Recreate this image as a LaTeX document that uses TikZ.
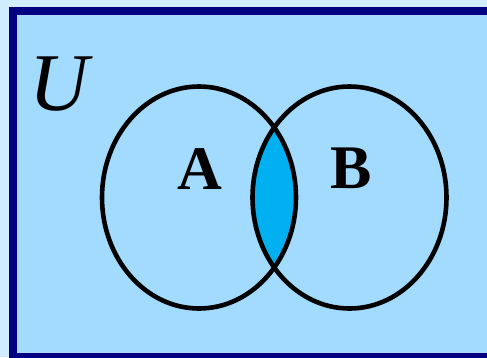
\documentclass[tikz,border=0pt]{standalone}
\usepackage{tikz}
\usepackage{fontspec}
\setmainfont{Liberation Serif}
\definecolor{paleblue}{RGB}{208,236,255}
\definecolor{setblue}{RGB}{163,219,255}
\definecolor{lensblue}{RGB}{0,176,240}
\definecolor{framenavy}{RGB}{0,0,128}

\begin{document}
\begin{tikzpicture}[x=1pt,y=-1pt, every node/.style={inner sep=0pt},
    setline/.style={line width=4.6pt},
    setlabel/.style={font=\fontsize{62}{62}\selectfont\bfseries, anchor=base}]
  \useasboundingbox (0,0) rectangle (487,357);
  \clip (0,0) rectangle (487,357);
  \fill[paleblue] (0,0) rectangle (487,357);
  \filldraw[fill=setblue, draw=framenavy, line width=8pt] (13,11) rectangle (500,357);
  % intersection
  \begin{scope}
    \clip (199,197.5) ellipse [x radius=97, y radius=111];
    \fill[lensblue] (349.5,197.5) ellipse [x radius=97, y radius=111];
  \end{scope}
  \draw[setline] (199,197.5) ellipse [x radius=97, y radius=111];
  \draw[setline] (349.5,197.5) ellipse [x radius=97, y radius=111];
  \node[font=\fontsize{82}{82}\selectfont\itshape, anchor=base] (setU) at (59,110) {U};
  \node[setlabel] (setA) at (200,189) {A};
  \node[setlabel] (setB) at (351,188) {B};
\end{tikzpicture}
\end{document}
